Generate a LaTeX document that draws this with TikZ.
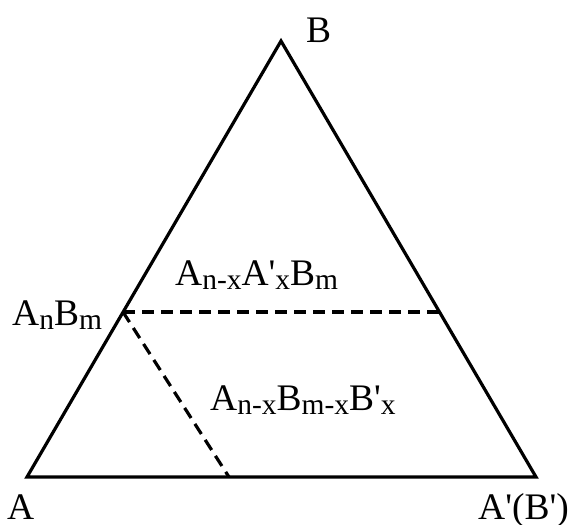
\documentclass[tikz,border=0pt]{standalone}
\usepackage{fontspec}
\setmainfont{Liberation Serif}[Ligatures=TeXOff]
\newcommand{\sbx}[1]{\raisebox{-4pt}{\fontsize{29.5}{30}\selectfont #1}}
\begin{document}
\begin{tikzpicture}[x=1pt,y=-1pt,
  edge/.style={line width=3.2pt,line join=miter},
  dline/.style={line width=3.2pt,dash pattern=on 12pt off 7pt},
  lbl/.style={inner sep=0pt,anchor=base west,font=\fontsize{37.5}{40}\selectfont}]
\useasboundingbox (0,0) rectangle (572,524);
\coordinate (A) at (27,477);
\coordinate (Ap) at (536,477);
\coordinate (B) at (281,41);
\coordinate (P) at (123,312);
\coordinate (Q) at (440,312);
\coordinate (R) at (229,477);
\draw[edge] (A) -- (B) -- (Ap) -- cycle;
\draw[dline] (P) -- (Q);
\draw[dline] (P) -- (R);
\node[lbl] (lB) at (306,43) {B};
\node[lbl] (lAB) at (12,325) {A\sbx{n}B\sbx{m}};
\node[lbl] (lA) at (7,519) {A};
\node[lbl] (lApBp) at (478,519) {A'(B')};
\node[lbl] (lup) at (175,285) {A\sbx{n-x}A'\sbx{x}B\sbx{m}};
\node[lbl] (llow) at (210,410) {A\sbx{n-x}B\sbx{m-x}B'\sbx{x}};
\end{tikzpicture}
\end{document}
